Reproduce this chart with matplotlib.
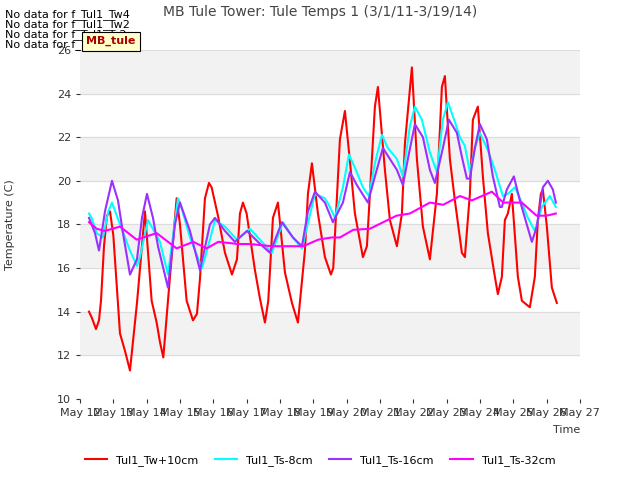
import numpy as np
import pandas as pd
import matplotlib
matplotlib.use('Agg')
import matplotlib.pyplot as plt
import matplotlib.dates as mdates

start = pd.Timestamp('2014-05-12')

# readings: day offset from May 12, temperature (C)
tw10_t = [0.27,0.36,0.48,0.57,0.63,0.72,0.81,0.9,1.0,1.2,1.35,1.5,1.71,1.95,2.15,2.3,2.4,2.5,
          2.64,2.9,3.0,3.2,3.39,3.51,3.6,3.75,3.87,3.95,4.14,4.35,4.56,4.71,4.8,4.89,5.0,5.25,
          5.4,5.55,5.65,5.79,5.94,6.15,6.36,6.54,6.75,6.84,6.96,7.14,7.35,7.53,7.6,7.8,7.95,
          8.1,8.25,8.49,8.61,8.85,8.94,9.15,9.3,9.51,9.66,9.75,9.96,10.11,10.29,10.5,10.71,
          10.86,10.95,11.1,11.25,11.46,11.55,11.7,11.79,11.94,12.09,12.24,12.45,12.54,12.66,
          12.75,12.84,12.96,13.14,13.26,13.5,13.65,13.74,13.83,13.89,14.01,14.16,14.31]
tw10_v = [14.0,13.7,13.2,13.6,14.5,17.0,18.4,18.6,17.5,13.0,12.2,11.3,14.4,18.6,14.5,13.5,12.6,11.9,
          14.5,19.2,18.0,14.5,13.6,13.9,15.5,19.2,19.9,19.7,18.4,16.7,15.7,16.4,18.5,19.0,18.5,15.9,
          14.6,13.5,14.5,18.3,19.0,15.8,14.4,13.5,16.8,19.4,20.8,18.5,16.5,15.7,16.0,21.9,23.2,
          20.9,18.5,16.5,17.0,23.4,24.3,20.5,18.2,17.0,18.5,21.7,25.2,21.0,17.9,16.4,19.4,
          24.3,24.8,21.0,19.1,16.7,16.5,19.4,22.8,23.4,20.2,17.6,15.6,14.8,15.6,
          18.2,18.5,19.4,15.6,14.5,14.2,15.6,18.2,19.4,19.6,17.9,15.1,14.4]

ts8_t = [0.27,0.35,0.5,0.69,0.85,0.96,1.2,1.5,1.71,1.8,2.04,2.4,2.64,2.94,3.0,3.3,3.66,3.9,4.05,
         4.35,4.71,5.1,5.4,5.76,6.09,6.39,6.66,7.05,7.35,7.5,7.65,7.89,8.07,8.25,8.49,8.67,8.85,
         9.06,9.24,9.51,9.69,9.9,10.05,10.26,10.5,10.71,10.89,11.04,11.25,11.4,11.55,11.7,11.85,
         12.0,12.24,12.45,12.69,12.84,13.05,13.26,13.41,13.65,13.86,14.1,14.28]
ts8_v = [18.5,18.3,17.6,17.4,18.6,19.0,18.0,16.8,16.1,16.5,18.2,17.2,15.7,19.2,19.0,17.4,16.0,17.3,18.2,
         17.9,17.3,17.8,17.3,16.7,18.1,17.4,16.9,19.4,19.2,18.8,18.3,19.7,21.2,20.6,19.7,19.3,20.8,
         22.1,21.5,21.0,20.2,22.5,23.4,22.8,21.3,20.4,22.8,23.6,22.7,22.0,21.6,20.4,21.5,
         22.2,21.4,20.5,19.3,19.4,19.7,19.0,18.4,17.7,18.8,19.3,18.8]

ts16_t = [0.27,0.45,0.57,0.75,0.96,1.14,1.29,1.5,1.71,1.86,2.01,2.19,2.34,2.64,2.85,3.0,3.3,3.6,3.9,
          4.05,4.35,4.65,5.01,5.34,5.7,6.06,6.39,6.66,6.84,7.05,7.35,7.59,7.89,8.1,8.31,8.64,8.85,
          9.09,9.3,9.51,9.69,9.84,10.05,10.29,10.5,10.65,10.89,11.07,11.31,11.46,11.61,11.7,11.85,
          12.0,12.21,12.39,12.6,12.66,12.81,13.02,13.2,13.35,13.56,13.71,13.89,14.04,14.19,14.28]
ts16_v = [18.3,17.6,16.8,18.6,20.0,19.1,17.6,15.7,16.4,18.3,19.4,18.3,17.0,15.1,18.0,19.0,17.7,15.9,18.0,
          18.3,17.7,17.2,17.7,17.2,16.7,18.1,17.4,17.0,18.6,19.5,19.0,18.1,19.0,20.4,19.8,19.0,20.2,
          21.5,21.0,20.5,19.8,21.0,22.6,22.0,20.5,19.9,21.5,22.8,22.2,21.1,20.1,20.1,21.5,
          22.6,21.9,20.2,18.8,18.8,19.6,20.2,19.1,18.3,17.2,17.9,19.7,20.0,19.6,19.0]

ts32_t = [0.27,0.5,0.75,1.2,1.7,2.3,2.9,3.4,3.8,4.15,4.75,5.1,5.75,6.15,6.7,7.15,7.55,7.8,8.2,8.7,
          9.1,9.5,9.9,10.5,10.9,11.4,11.76,12.36,12.7,13.26,13.7,14.0,14.28]
ts32_v = [18.1,17.8,17.7,17.9,17.3,17.6,16.9,17.2,16.9,17.2,17.1,17.1,17.0,17.0,17.0,17.3,17.4,17.4,17.75,17.8,
          18.1,18.4,18.5,19.0,18.9,19.3,19.1,19.5,19.0,19.0,18.4,18.4,18.5]

missing = ['f_Tul1_Tw4', 'f_Tul1_Tw2', 'f_Tul1_Ts2', 'f_Tul1_Ts4']


def to_dates(days):
    return start + pd.to_timedelta(np.array(days), unit='D')


fig = plt.figure(figsize=(6.4, 4.8), dpi=100)
ax = fig.add_axes([0.125, 0.169, 0.781, 0.727])

# alternating background bands
for lo in range(10, 26, 2):
    if (lo // 2) % 2 == 0:
        ax.axhspan(lo, lo + 2, color='#f2f2f2', zorder=0)
for y in range(10, 27, 2):
    ax.axhline(y, color='#dcdcdc', lw=0.8, zorder=0.5)

ax.plot(to_dates(tw10_t), tw10_v, color='#ff0000', lw=1.5, label='Tul1_Tw+10cm')
ax.plot(to_dates(ts8_t), ts8_v, color='#00ffff', lw=1.5, label='Tul1_Ts-8cm')
ax.plot(to_dates(ts16_t), ts16_v, color='#9b30ff', lw=1.5, label='Tul1_Ts-16cm')
ax.plot(to_dates(ts32_t), ts32_v, color='#ff00ff', lw=1.5, label='Tul1_Ts-32cm')

ax.set_ylim(10, 26)
ax.set_yticks(range(10, 27, 2))
ax.set_xlim(start, start + pd.Timedelta(days=15))
ax.xaxis.set_major_locator(mdates.DayLocator())
ax.xaxis.set_major_formatter(mdates.DateFormatter('%b %d'))
ax.tick_params(labelsize=8, colors='#333333', length=3)
for s in ax.spines.values():
    s.set_visible(False)

ax.set_ylabel('Temperature (C)', fontsize=8, color='#333333')
ax.yaxis.set_label_coords(-0.13, 0.5)
ax.set_xlabel('Time', fontsize=8, color='#333333')
ax.xaxis.set_label_coords(1.0, -0.075)
ax.xaxis.label.set_horizontalalignment('right')
fig.text(0.5, 0.975, 'MB Tule Tower: Tule Temps 1 (3/1/11-3/19/14)', ha='center', va='center',
         fontsize=10, color='#444444')

for i, name in enumerate(missing):
    fig.text(0.008, 0.97 - i * 0.021, 'No data for ' + name, fontsize=8, va='center')

fig.text(0.135, 0.914, 'MB_tule', fontsize=8, color='#aa0000', fontweight='bold', va='center',
         bbox=dict(boxstyle='square,pad=0.4', facecolor='#ffffcc', edgecolor='black', lw=0.8))

fig.legend(loc='lower center', ncol=4, frameon=False, fontsize=8, bbox_to_anchor=(0.5, 0.008),
           handlelength=2, columnspacing=1.5)

fig.savefig('out.png', dpi=100)
